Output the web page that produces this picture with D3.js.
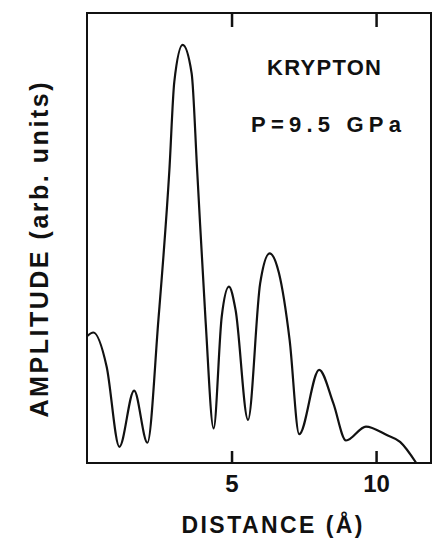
<!DOCTYPE html>
<html>
<head>
<meta charset="utf-8">
<script src="https://cdn.jsdelivr.net/npm/d3@7"></script>
<style>
  body { margin: 0; background: #fff; }
  text { font-family: "Liberation Sans", Arial, sans-serif; font-weight: bold; fill: #111; }
</style>
</head>
<body>
<div id="chart"></div>
<script>
// distance (angstrom) and amplitude (arb. units)
const distance = [0, 0.22, 0.68, 1.12, 1.63, 2.09, 2.47, 2.85, 3.02, 3.31, 3.62, 3.81, 4.10, 4.38,
  4.66, 4.91, 5.14, 5.57, 5.99, 6.32, 6.64, 7.01, 7.34, 8.03, 8.52, 8.96, 9.65, 10.37, 10.83, 11.39];
const amplitude = [28.2, 29.0, 21.4, 3.6, 16.1, 4.5, 31.8, 65.1, 84.7, 92.9, 86.6, 65.1, 31.8, 7.7,
  32.5, 39.2, 34.0, 9.6, 39.9, 46.6, 42.2, 27.3, 6.4, 20.7, 13.3, 5.0, 8.1, 6.2, 4.7, 0];
const xTicks = [5, 10];
const element = "KRYPTON";
const pressure = "P=9.5 GPa";

const width = 433, height = 546;
const margin = { left: 87, right: 2, top: 13, bottom: 83 };

const svg = d3.select("#chart").append("svg")
  .attr("width", width)
  .attr("height", height);

const x = d3.scaleLinear().domain([0, 11.9]).range([margin.left, width - margin.right]);
const y = d3.scaleLinear().domain([0, 100]).range([height - margin.bottom, margin.top]);

const pts = distance.map((d, i) => [d, amplitude[i]]);

// frame
svg.append("rect")
  .attr("x", x(0)).attr("y", y(100))
  .attr("width", x(11.9) - x(0)).attr("height", y(0) - y(100))
  .attr("fill", "none").attr("stroke", "#111").attr("stroke-width", 2);

// bottom ticks (inward) + labels
const axisB = svg.append("g").attr("transform", `translate(0,${y(0)})`)
  .call(d3.axisBottom(x).tickValues(xTicks).tickSizeInner(-12).tickSizeOuter(0).tickPadding(12));
axisB.select(".domain").remove();
axisB.selectAll("line").attr("stroke", "#111").attr("stroke-width", 2.5);
axisB.selectAll("text").attr("font-size", 24).attr("fill", "#111")
  .style("font-family", "'Liberation Sans', Arial, sans-serif").style("font-weight", "bold");

// top ticks (inward)
const axisT = svg.append("g").attr("transform", `translate(0,${y(100)})`)
  .call(d3.axisTop(x).tickValues(xTicks).tickSizeInner(-14).tickSizeOuter(0).tickFormat(""));
axisT.select(".domain").remove();
axisT.selectAll("line").attr("stroke", "#111").attr("stroke-width", 2.5);

// curve
svg.append("path")
  .datum(pts)
  .attr("fill", "none")
  .attr("stroke", "#111")
  .attr("stroke-width", 2.2)
  .attr("stroke-linejoin", "round")
  .attr("d", d3.line().x(d => x(d[0])).y(d => y(d[1])).curve(d3.curveMonotoneX));

// labels
svg.append("text").attr("x", 324).attr("y", 75).attr("text-anchor", "middle")
  .attr("font-size", 22).attr("textLength", 114).attr("lengthAdjust", "spacing").text(element);
svg.append("text").attr("x", 326).attr("y", 132).attr("text-anchor", "middle")
  .attr("font-size", 22).attr("textLength", 150).attr("lengthAdjust", "spacing").text(pressure);

svg.append("text").attr("x", 272).attr("y", 533).attr("text-anchor", "middle")
  .attr("font-size", 23).attr("textLength", 181).attr("lengthAdjust", "spacing").text("DISTANCE (Å)");

svg.append("text")
  .attr("transform", "translate(48,250) rotate(-90)")
  .attr("text-anchor", "middle")
  .attr("font-size", 25).attr("textLength", 335).attr("lengthAdjust", "spacing")
  .text("AMPLITUDE (arb. units)");
</script>
</body>
</html>
